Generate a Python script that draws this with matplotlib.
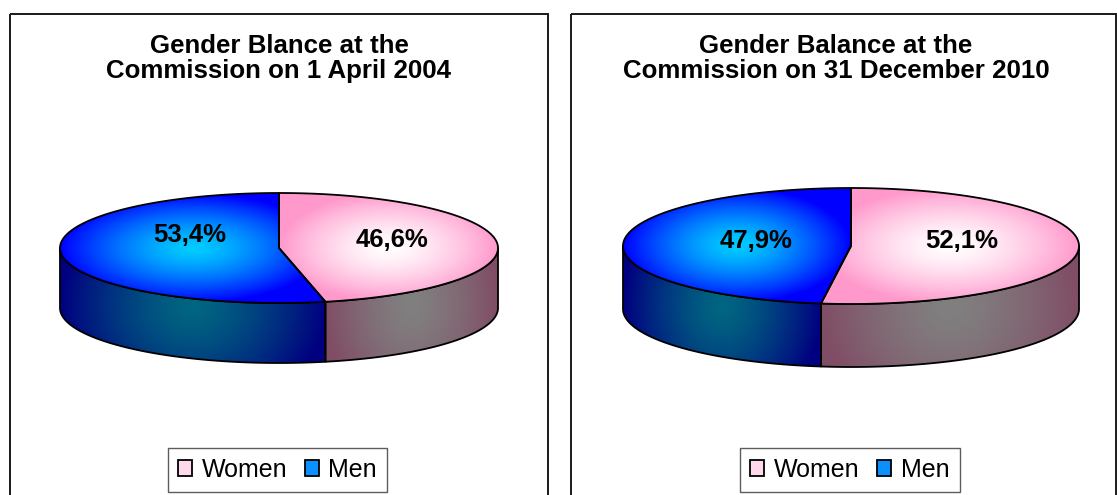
import numpy as np
import matplotlib
matplotlib.use("Agg")
import matplotlib.pyplot as plt
from matplotlib.patches import Polygon, Rectangle, Patch
from matplotlib.colors import to_rgb

# ---- data ----
categories = ["Women", "Men"]
shares_2004 = [46.6, 53.4]
shares_2010 = [52.1, 47.9]
titles_2004 = ["Gender Blance at the", "Commission on 1 April 2004"]
titles_2010 = ["Gender Balance at the", "Commission on 31 December 2010"]

# ---- style ----
top_colors = {"Women": ("#FFFFFF", "#FF99CC"), "Men": ("#00CCFF", "#0000FF")}
side_colors = {"Women": ("#808080", "#804D66"), "Men": ("#006680", "#000080")}
legend_colors = {"Women": "#FFD8EB", "Men": "#0A90FF"}

plt.rcParams["font.family"] = ["Liberation Sans", "DejaVu Sans"]

W, H = 1117, 495
fig = plt.figure(figsize=(W / 100, H / 100), dpi=100)
ax = fig.add_axes([0, 0, 1, 1])
ax.set_xlim(0, W)
ax.set_ylim(H, 0)
ax.axis("off")


def gradient_face(verts, c_center, c_edge, z, vweight=1.0, gamma=1.0):
    verts = np.asarray(verts)
    poly = Polygon(verts, closed=True, facecolor="none", edgecolor="none")
    ax.add_patch(poly)
    x0, x1 = verts[:, 0].min(), verts[:, 0].max()
    y0, y1 = verts[:, 1].min(), verts[:, 1].max()
    nx, ny = int(x1 - x0) + 2, int(y1 - y0) + 2
    X, Y = np.meshgrid(np.linspace(x0, x1, nx), np.linspace(y0, y1, ny))
    cx, cy = (x0 + x1) / 2, (y0 + y1) / 2
    d = np.sqrt(((X - cx) / ((x1 - x0) / 2)) ** 2
                + vweight * ((Y - cy) / ((y1 - y0) / 2)) ** 2)
    d = np.clip(d, 0, 1) ** gamma
    d = d[..., None]
    cc, ce = np.array(to_rgb(c_center)), np.array(to_rgb(c_edge))
    img = cc * (1 - d) + ce * d
    im = ax.imshow(img, extent=(x0, x1, y1, y0), origin="upper",
                   interpolation="bilinear", zorder=z, aspect="auto")
    im.set_clip_path(poly)
    ax.add_patch(Polygon(verts, closed=True, facecolor="none",
                         edgecolor="black", lw=1.3, zorder=z + 0.5,
                         joinstyle="round"))


def pie3d(values, cx, cy, a, b, depth, label_offsets):
    def pt(t, dz=0.0):
        t = np.radians(t)
        return np.column_stack([cx + a * np.cos(t), cy - b * np.sin(t) + dz])

    start = 90.0
    cum = 0.0
    slices = []
    for cat, v in zip(categories, values):
        t_s = start - cum
        t_e = start - cum - 360.0 * v / 100.0
        cum += 360.0 * v / 100.0
        slices.append((cat, t_e, t_s, v))

    # side faces (front half only)
    for cat, t_e, t_s, v in slices:
        for k in (-1, 0, 1):
            lo, hi = -180 + 360 * k, 360 * k
            s, e = max(t_e, lo), min(t_s, hi)
            if e > s:
                ts = np.linspace(s, e, 120)
                verts = np.vstack([pt(ts), pt(ts[::-1], depth)])
                gradient_face(verts, *side_colors[cat], z=2,
                              vweight=0.25, gamma=1.4)
    # top faces
    for cat, t_e, t_s, v in slices:
        ts = np.linspace(t_e, t_s, 240)
        verts = np.vstack([[[cx, cy]], pt(ts)])
        gradient_face(verts, *top_colors[cat], z=4, vweight=1.0, gamma=1.4)
    # labels
    for (cat, t_e, t_s, v), (dx, dy) in zip(slices, label_offsets):
        ax.text(cx + dx, cy + dy, f"{v:.1f}".replace(".", ",") + "%",
                ha="center", va="baseline", fontsize=18.5, fontweight="bold",
                color="black", zorder=10)


def panel(x0, x1, titles, title_cx, values, geom, label_offsets, legend_cx):
    ax.add_patch(Rectangle((x0, 14), x1 - x0, 600, facecolor="none",
                           edgecolor="#1a1a1a", lw=1.4, zorder=1))
    for y, t in zip((53, 78), titles):
        ax.text(title_cx, y, t, ha="center", va="baseline", fontsize=18.6,
                fontweight="bold", color="black")
    pie3d(values, *geom, label_offsets)
    handles = [Patch(facecolor=legend_colors[c], edgecolor="black", lw=1.3)
               for c in categories]
    fig.legend(handles, categories, loc="center",
               bbox_to_anchor=(legend_cx / W, 1 - 470 / H), ncol=2,
               fontsize=18, frameon=True, fancybox=False, edgecolor="#333333",
               borderpad=0.4, handlelength=0.55, handleheight=0.62,
               handletextpad=0.4, columnspacing=0.7, borderaxespad=0)
    fig.legends[-1].get_frame().set_linewidth(1.0)


panel(9.5, 548, titles_2004, 279, shares_2004, (279, 248, 219, 55, 60),
      [(113, -1), (-89, -6)], 277.5)
panel(570.5, 1116, titles_2010, 836, shares_2010, (851, 246, 228, 58, 63),
      [(111, 2), (-95, 2)], 850)

fig.savefig("out.png", dpi=100)
